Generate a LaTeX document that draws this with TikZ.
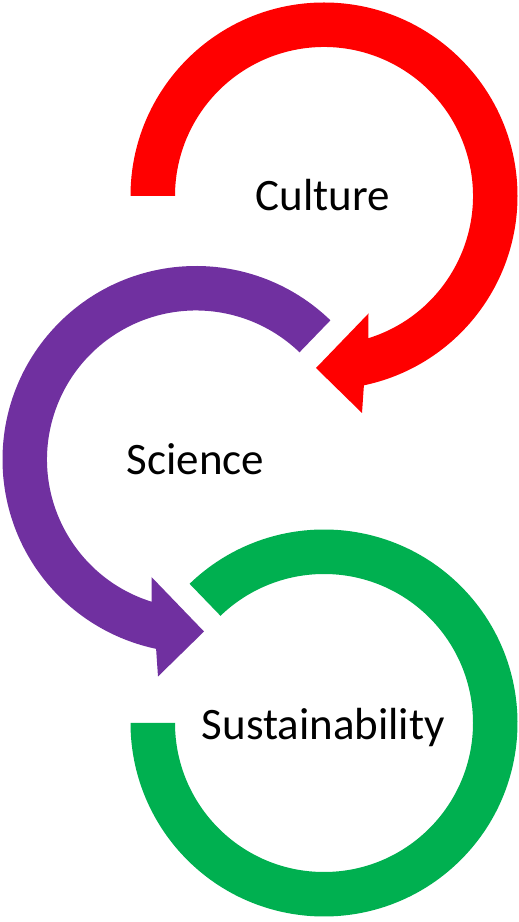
\documentclass[tikz,border=0pt]{standalone}
\usepackage{fontspec}
\setmainfont{Carlito}
\definecolor{cred}{HTML}{FF0000}
\definecolor{cpurple}{HTML}{7030A0}
\definecolor{cgreen}{HTML}{00B050}
\begin{document}
\begin{tikzpicture}[x=1pt,y=1pt,
  txt/.style={font=\fontsize{45}{54}\selectfont, text=black, inner sep=0pt, anchor=base},
  ring/.style={draw=none}]
\useasboundingbox (0,0) rectangle (519,922);
\coordinate (cr) at (324,726);
\coordinate (cp) at (196,462.5);
\coordinate (cg) at (324,199);
% red (Culture)
\begin{scope}[shift={(cr)}]
\fill[cred,ring] (180:193.5) arc[start angle=180,end angle=-78.1,radius=193.5]
  -- (38,-217) -- (-8,-172) -- (44.5,-117.5) -- (-72.66:149)
  arc[start angle=-72.66,end angle=180,radius=149] -- cycle;
\end{scope}
% purple (Science)
\begin{scope}[shift={(cp)}]
\fill[cpurple,ring] (46:193.5) arc[start angle=46,end angle=258.1,radius=193.5]
  -- (-38,-217) -- (8,-172) -- (-44.5,-117.5) -- (252.66:149)
  arc[start angle=252.66,end angle=46,radius=149] -- cycle;
\end{scope}
% green (Sustainability)
\begin{scope}[shift={(cg)}]
\fill[cgreen,ring] (134:193.5) arc[start angle=134,end angle=-180,radius=193.5]
  -- (180:149) arc[start angle=-180,end angle=134,radius=149] -- cycle;
\end{scope}
\node[txt] (culture) at (322.7,711.3) {Culture};
\node[txt] (science) at (195.5,447) {Science};
\node[txt] (sust) at (323.3,182) {Sustainability};
\end{tikzpicture}
\end{document}
